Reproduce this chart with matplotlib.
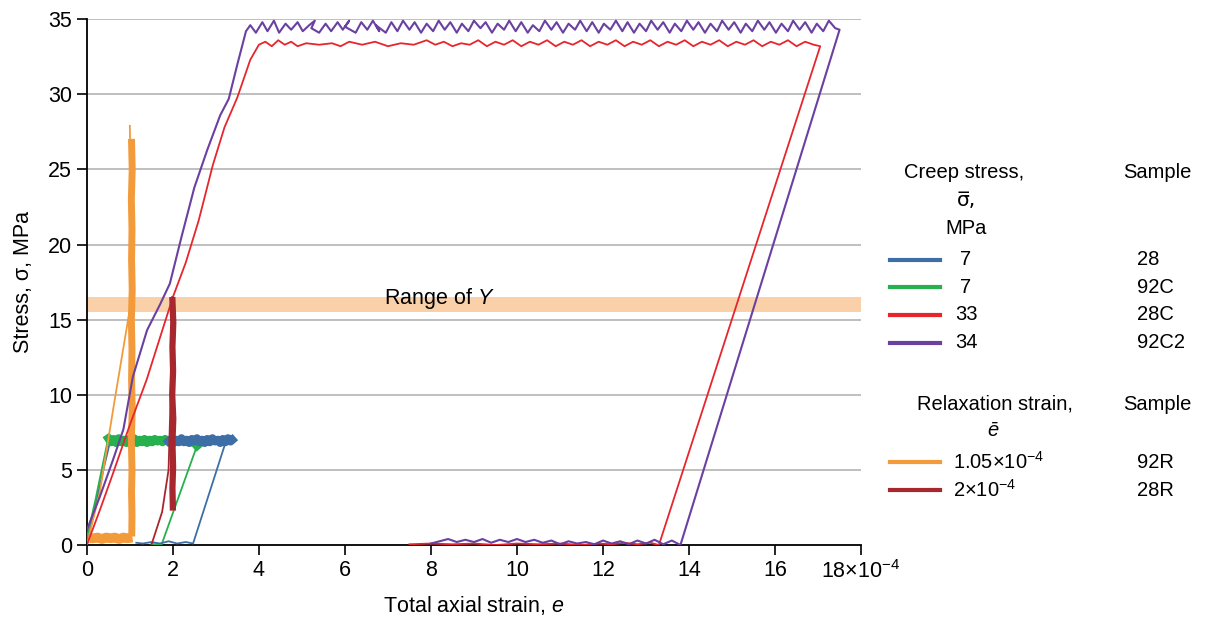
import matplotlib
matplotlib.use("Agg")
import matplotlib.pyplot as plt
from matplotlib.lines import Line2D

plt.rcParams['font.family'] = ['Liberation Sans', 'DejaVu Sans']
plt.rcParams['mathtext.fontset'] = 'custom'
plt.rcParams['mathtext.rm'] = 'Liberation Sans'
plt.rcParams['mathtext.it'] = 'Liberation Sans:italic'

# colours
c_blue = '#3d6fa6'
c_green = '#27b04e'
c_red = '#e6262c'
c_purple = '#6a40a0'
c_orange = '#f39a3b'
c_dred = '#a8262e'
c_band = '#f9d0a8'

# ---- 92C2, 34 MPa (purple) ----
purple_load = [(0, 1.0), (0.3, 3.2), (0.6, 5.6), (0.85, 7.7), (1.07, 11.2), (1.4, 14.3),
               (1.7, 16.0), (1.93, 17.4), (2.2, 20.5), (2.5, 23.8), (2.8, 26.3), (3.1, 28.6),
               (3.3, 29.7), (3.5, 32.0), (3.7, 34.2)]
purple_hold = [(3.80, 34.6), (3.93, 34.1), (4.08, 34.8), (4.20, 34.2), (4.35, 34.9), (4.47, 34.1),
               (4.62, 34.7), (4.75, 34.3), (4.90, 34.8), (5.02, 34.2), (5.17, 34.6), (5.30, 34.9),
               (5.22, 34.4), (5.40, 34.1), (5.55, 34.7), (5.68, 34.2), (5.83, 34.8), (5.95, 34.3),
               (6.10, 34.9), (6.00, 34.5), (6.25, 34.1), (6.38, 34.8), (6.52, 34.3), (6.65, 34.9),
               (6.80, 34.2), (6.72, 34.6), (6.95, 34.1), (7.08, 34.8), (7.22, 34.2), (7.35, 34.9),
               (7.50, 34.3), (7.62, 34.8), (7.77, 34.1), (7.90, 34.7), (8.05, 34.2), (8.18, 34.9),
               (8.32, 34.3), (8.45, 34.8), (8.60, 34.1), (8.72, 34.7), (8.87, 34.2), (9.00, 34.9),
               (9.15, 34.4), (9.27, 34.8), (9.42, 34.1), (9.55, 34.7), (9.70, 34.3), (9.82, 34.9),
               (9.97, 34.2), (10.10, 34.8), (10.25, 34.1), (10.37, 34.6), (10.52, 34.2), (10.65, 34.9),
               (10.80, 34.3), (10.92, 34.8), (11.07, 34.1), (11.20, 34.7), (11.35, 34.3), (11.47, 34.9),
               (11.62, 34.2), (11.75, 34.8), (11.90, 34.1), (12.02, 34.7), (12.17, 34.3), (12.30, 34.9),
               (12.45, 34.2), (12.57, 34.8), (12.72, 34.1), (12.85, 34.7), (13.00, 34.2), (13.12, 34.9),
               (13.27, 34.3), (13.40, 34.8), (13.55, 34.1), (13.67, 34.7), (13.82, 34.2), (13.95, 34.9),
               (14.10, 34.3), (14.22, 34.8), (14.37, 34.1), (14.50, 34.7), (14.65, 34.2), (14.77, 34.9),
               (14.92, 34.3), (15.05, 34.8), (15.20, 34.1), (15.32, 34.7), (15.47, 34.2), (15.60, 34.9),
               (15.75, 34.3), (15.87, 34.8), (16.02, 34.1), (16.15, 34.7), (16.30, 34.2), (16.42, 34.9),
               (16.57, 34.3), (16.70, 34.8), (16.85, 34.1), (16.97, 34.7), (17.12, 34.2), (17.25, 34.9),
               (17.40, 34.4), (17.50, 34.3)]
purple_unload = [(13.8, 0.0), (13.6, 0.3), (13.4, 0.05), (13.2, 0.35), (13.0, 0.1), (12.8, 0.3),
                 (12.6, 0.05), (12.4, 0.25), (12.2, 0.1), (12.0, 0.3), (11.8, 0.05), (11.6, 0.2),
                 (11.4, 0.1), (11.2, 0.25), (11.0, 0.05), (10.8, 0.3), (10.6, 0.15), (10.4, 0.35),
                 (10.2, 0.2), (10.0, 0.4), (9.8, 0.2), (9.6, 0.35), (9.4, 0.15), (9.2, 0.4),
                 (9.0, 0.2), (8.8, 0.35), (8.6, 0.2), (8.4, 0.4), (8.2, 0.25), (8.0, 0.1)]

# ---- 28C, 33 MPa (red) ----
red_load = [(0, 0), (0.3, 2.3), (0.6, 4.7), (1.0, 8.0), (1.39, 11.0), (1.7, 13.8), (2.0, 16.5),
            (2.3, 18.8), (2.6, 21.6), (2.93, 25.3), (3.2, 27.8), (3.5, 29.8), (3.8, 32.3), (4.0, 33.3)]
red_hold = [(4.15, 33.5), (4.3, 33.2), (4.45, 33.6), (4.6, 33.3), (4.75, 33.5), (4.9, 33.2),
            (5.1, 33.4), (5.4, 33.3), (5.7, 33.4), (5.9, 33.2), (6.1, 33.5), (6.4, 33.3),
            (6.7, 33.5), (7.0, 33.2), (7.3, 33.4), (7.6, 33.3), (7.9, 33.6), (8.1, 33.3),
            (8.3, 33.5), (8.5, 33.2), (8.7, 33.4), (8.9, 33.3), (9.1, 33.6), (9.3, 33.2),
            (9.5, 33.5), (9.7, 33.3), (9.9, 33.6), (10.1, 33.2), (10.3, 33.5), (10.5, 33.3),
            (10.7, 33.6), (10.9, 33.2), (11.1, 33.5), (11.3, 33.3), (11.5, 33.6), (11.7, 33.2),
            (11.9, 33.5), (12.1, 33.3), (12.3, 33.6), (12.5, 33.2), (12.7, 33.5), (12.9, 33.3),
            (13.1, 33.6), (13.3, 33.2), (13.5, 33.5), (13.7, 33.3), (13.9, 33.6), (14.1, 33.2),
            (14.3, 33.5), (14.5, 33.3), (14.7, 33.6), (14.9, 33.2), (15.1, 33.5), (15.3, 33.3),
            (15.5, 33.6), (15.7, 33.2), (15.9, 33.5), (16.1, 33.3), (16.3, 33.6), (16.5, 33.2),
            (16.7, 33.5), (16.9, 33.3), (17.05, 33.2)]
red_unload = [(13.3, 0.0), (13.1, 0.15), (12.8, 0.05), (12.5, 0.15), (12.2, 0.05), (11.9, 0.1),
              (11.5, 0.0), (11.0, 0.1), (10.5, 0.05), (10.0, 0.1), (9.5, 0.0), (9.0, 0.1),
              (8.5, 0.05), (8.0, 0.1), (7.5, 0.05)]

# ---- 28, 7 MPa (blue) ----
blue_load = [(0, 0.0), (0.2, 2.6), (0.4, 5.2), (0.55, 7.0)]
blue_hold = [(1.9, 6.9), (1.96, 7.05), (2.02, 6.8), (2.08, 7.0), (2.14, 6.85), (2.2, 7.1),
             (2.26, 6.85), (2.32, 7.0), (2.38, 6.8), (2.44, 7.05), (2.5, 6.9), (2.56, 7.1),
             (2.62, 6.85), (2.68, 7.0), (2.74, 6.8), (2.8, 7.05), (2.86, 6.85), (2.92, 7.1),
             (2.98, 6.9), (3.04, 7.0), (3.1, 6.8), (3.16, 7.05), (3.22, 6.85), (3.28, 7.1),
             (3.34, 6.9), (3.38, 7.0)]
blue_unload = [(3.2, 6.6), (2.47, 0.1), (2.3, 0.2), (2.1, 0.1), (1.9, 0.25), (1.7, 0.1),
               (1.5, 0.2), (1.3, 0.1), (1.15, 0.15)]

# ---- 92C, 7 MPa (green) ----
green_load = [(0, 0.5), (0.2, 3.0), (0.49, 7.0)]
green_hold = [(0.5, 7.1), (0.56, 6.85), (0.62, 7.05), (0.68, 6.8), (0.74, 7.1), (0.8, 6.85),
              (0.86, 7.0), (0.92, 6.8), (0.98, 7.05), (1.04, 6.85), (1.1, 7.1), (1.16, 6.8),
              (1.22, 7.0), (1.28, 6.85), (1.34, 7.05), (1.4, 6.8), (1.46, 7.0), (1.52, 6.85),
              (1.58, 7.05), (1.64, 6.9), (1.7, 7.0), (1.76, 6.85), (1.82, 7.05), (1.88, 6.9),
              (1.95, 7.0), (2.1, 6.9), (2.3, 6.95), (2.5, 6.8), (2.56, 6.6)]
green_unload = [(2.56, 6.6), (1.74, 0.05), (1.5, 0.05)]

# ---- 92R, relaxation 1.05e-4 (orange) ----
orange_load = [(0, 0.0), (0.3, 3.5), (0.65, 9.7), (1.0, 15.7), (1.03, 22.0), (1.0, 27.9)]
orange_relax = [(1.04, 26.8), (1.055, 25.0), (1.035, 23.0), (1.05, 21.0), (1.04, 19.0),
                (1.055, 17.0), (1.035, 15.0), (1.05, 13.0), (1.04, 11.0), (1.055, 9.0),
                (1.035, 7.0), (1.05, 5.0), (1.04, 3.5), (1.05, 2.0), (1.045, 0.8)]
orange_zero = [(1.06, 0.5), (0.95, 0.45), (0.85, 0.5), (0.75, 0.4), (0.65, 0.5), (0.55, 0.45),
               (0.45, 0.5), (0.35, 0.4), (0.25, 0.5), (0.15, 0.45), (0.06, 0.45)]

# ---- 28R, relaxation 2e-4 (dark red) ----
dred_load = [(1.5, 0.0), (1.75, 2.2), (1.9, 5.0), (1.95, 10.0), (1.98, 16.5)]
dred_relax = [(1.99, 16.3), (2.01, 14.8), (1.99, 13.2), (2.005, 11.6), (1.985, 10.0),
              (2.01, 8.4), (1.99, 6.8), (2.005, 5.2), (1.99, 3.8), (2.0, 2.5)]

band_lo, band_hi = 15.5, 16.5

xticks = [0, 2, 4, 6, 8, 10, 12, 14, 16, 18]
xticklabels = ['0', '2', '4', '6', '8', '10', '12', '14', '16', '18×10$^{-4}$']
yticks = [0, 5, 10, 15, 20, 25, 30, 35]


def xy(*parts):
    pts = [p for part in parts for p in part]
    return [p[0] for p in pts], [p[1] for p in pts]


fig = plt.figure(figsize=(12.06, 6.19), dpi=100)
ax = fig.add_axes([0.072, 0.1195, 0.642, 0.8495])

for yv in yticks[1:]:
    ax.axhline(yv, color='#b4b4b4', lw=1.2, zorder=0)
ax.axhspan(band_lo, band_hi, color=c_band, lw=0, zorder=1)
ax.text(8.2, 16.4, 'Range of $Y$', ha='center', va='center', fontsize=15.5, zorder=2)

thin = 1.3
ax.plot(*xy(blue_load), color=c_blue, lw=thin, zorder=3)
ax.plot(*xy(green_hold), color=c_green, lw=6, zorder=4)
ax.plot(*xy(green_load), color=c_green, lw=thin, zorder=4)
ax.plot(*xy(green_unload), color=c_green, lw=thin, zorder=4)
ax.plot(*xy(blue_hold), color=c_blue, lw=6, zorder=5)
ax.plot(*xy(blue_unload), color=c_blue, lw=thin, zorder=5)
ax.plot(*xy(orange_load), color=c_orange, lw=thin, zorder=6)
ax.plot(*xy(orange_relax), color=c_orange, lw=5, zorder=6)
ax.plot(*xy(orange_zero), color=c_orange, lw=7, zorder=6, solid_capstyle='butt')
ax.plot(*xy(red_load, red_hold, red_unload), color=c_red, lw=thin, zorder=7)
ax.plot(*xy(purple_load, purple_hold, purple_unload), color=c_purple, lw=1.5, zorder=8)
ax.plot(*xy(dred_load), color=c_dred, lw=thin, zorder=9)
ax.plot(*xy(dred_relax), color=c_dred, lw=4.5, zorder=9)

ax.set_xlim(0, 18)
ax.set_ylim(0, 35)
ax.set_xticks(xticks)
ax.set_xticklabels(xticklabels)
ax.set_yticks(yticks)
ax.tick_params(labelsize=15.5, direction='out', length=7.5, width=1.2, pad=3)
for s in ['top', 'right']:
    ax.spines[s].set_visible(False)
for s in ['left', 'bottom']:
    ax.spines[s].set_linewidth(1.3)
ax.set_xlabel('Total axial strain, $e$', fontsize=15.5, labelpad=8)
ax.set_ylabel('Stress, σ, MPa', fontsize=15.5, labelpad=10)

# legend built as a table on the right
W, H = 1206.0, 619.0
LFS = 14.5


def ft(x, y, s, **kw):
    fig.text(x / W, 1 - y / H, s, fontsize=LFS, va='center', **kw)


def fl(y, color):
    fig.add_artist(Line2D([890 / W, 940 / W], [1 - y / H, 1 - y / H], color=color, lw=3))


ft(964, 173, 'Creep stress,', ha='center')
ft(966, 200, 'σ\u0305,', ha='center', family=['DejaVu Sans'])
ft(966, 228, 'MPa', ha='center')
ft(1157, 173, 'Sample', ha='center')
creep_vals = ['7', '7', '33', '34']
creep_samples = ['28', '92C', '28C', '92C2']
creep_colors = [c_blue, c_green, c_red, c_purple]
for i, (v, s, c) in enumerate(zip(creep_vals, creep_samples, creep_colors)):
    y = 260 + i * 27.5
    fl(y, c)
    ft(966, y, v, ha='center')
    ft(1137, y, s, ha='left')

ft(995, 404, 'Relaxation strain,', ha='center')
ft(993, 430, 'ē', ha='center', style='italic')
ft(1157, 404, 'Sample', ha='center')
rel_vals = ['1.05×10$^{-4}$', '2×10$^{-4}$']
rel_samples = ['92R', '28R']
rel_colors = [c_orange, c_dred]
for i, (v, s, c) in enumerate(zip(rel_vals, rel_samples, rel_colors)):
    y = 462 + i * 28
    fl(y, c)
    ft(953, y, v, ha='left')
    ft(1137, y, s, ha='left')

fig.savefig('out.png', dpi=100)
